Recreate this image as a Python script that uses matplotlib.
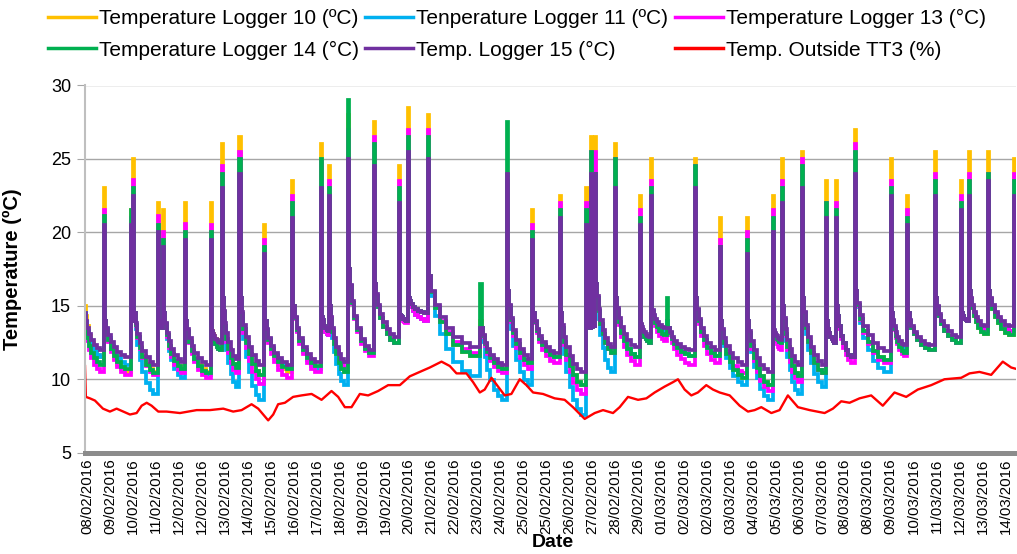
import matplotlib
matplotlib.use("Agg")
import matplotlib.pyplot as plt
from matplotlib.lines import Line2D

plt.rcParams['font.family'] = ['Liberation Sans', 'DejaVu Sans']

# ---------------- data (hours since first axis label, 08/02/2016) ----------------
tick_labels = ["08/02/2016", "09/02/2016", "10/02/2016", "11/02/2016", "12/02/2016",
               "12/02/2016", "13/02/2016", "14/02/2016", "15/02/2016", "16/02/2016",
               "17/02/2016", "18/02/2016", "19/02/2016", "19/02/2016", "20/02/2016",
               "21/02/2016", "22/02/2016", "23/02/2016", "24/02/2016", "25/02/2016",
               "25/02/2016", "26/02/2016", "27/02/2016", "28/02/2016", "29/02/2016",
               "01/03/2016", "02/03/2016", "02/03/2016", "03/03/2016", "04/03/2016",
               "05/03/2016", "06/03/2016", "07/03/2016", "08/03/2016", "08/03/2016",
               "09/03/2016", "10/03/2016", "11/03/2016", "12/03/2016", "13/03/2016",
               "14/03/2016"]
tick_hours = [21 * i for i in range(len(tick_labels))]

spike_hours = [15.5, 39.9, 42.3, 65.2, 69.7, 89.6, 113.3, 123.1, 139.4, 162.0,
               187.6, 213.9, 221.4, 238.3, 262.6, 285.1, 293.6, 311.4, 359.8, 384.1,
               407.3, 432.3, 456.7, 460.6, 464.9, 482.5, 505.4, 515.4, 530.7, 555.7,
               578.5, 603.5, 627.2, 635.8, 653.7, 676.0, 685.1, 701.9, 735.4, 750.0,
               775.0, 799.4, 806.3, 823.7, 848.1]

peak_l10 = [23.0, 21.5, 25.0, 22.0, 21.5, 22.0, 22.0, 26.0, 26.5, 20.5, 23.5, 26.0, 24.5, 28.0, 27.5,
            24.5, 28.5, 28.0, 14.0, 23.5, 21.5, 22.5, 23.0, 26.5, 26.5, 26.0, 22.5, 25.0, 14.0, 25.0,
            21.0, 21.0, 22.5, 25.0, 25.5, 23.5, 23.5, 27.0, 25.0, 22.5, 25.5, 23.5, 25.5, 25.5, 25.0]
peak_l11 = [20.0, 20.0, 22.0, 19.5, 18.5, 19.0, 19.0, 22.5, 23.5, 18.0, 20.5, 22.5, 22.0, 24.5, 24.0,
            21.5, 25.0, 24.5, 13.5, 23.5, 19.0, 20.5, 20.0, 23.5, 23.5, 22.5, 20.0, 22.0, 14.0, 22.5,
            18.5, 18.0, 19.5, 21.5, 22.5, 20.5, 20.5, 23.5, 22.0, 20.0, 22.0, 21.0, 22.0, 23.0, 22.0]
peak_l13 = [21.5, 21.0, 23.6, 21.1, 20.0, 20.6, 20.5, 24.5, 25.5, 19.5, 22.5, 24.8, 23.5, 27.0, 26.5,
            23.5, 27.0, 27.0, 13.5, 23.5, 20.5, 22.0, 22.0, 25.5, 25.5, 25.0, 21.5, 23.5, 13.5, 24.5,
            19.5, 20.0, 21.5, 23.5, 25.0, 22.0, 22.0, 26.0, 23.5, 21.5, 24.0, 22.5, 24.0, 24.0, 24.0]
peak_l14 = [21.1, 21.5, 23.0, 20.5, 19.5, 20.0, 20.0, 24.0, 25.0, 19.0, 22.0, 25.0, 23.0, 29.0, 26.0,
            23.0, 26.5, 26.5, 16.5, 27.5, 20.0, 21.5, 21.5, 25.5, 24.0, 25.0, 21.0, 23.0, 15.5, 24.5,
            19.0, 19.5, 21.0, 23.0, 24.5, 22.0, 21.5, 25.5, 23.0, 21.0, 23.5, 22.0, 23.5, 24.0, 23.5]
peak_l15 = [20.5, 20.5, 22.5, 20.0, 19.0, 19.5, 19.5, 23.0, 24.0, 18.5, 21.0, 23.0, 22.5, 25.0, 24.5,
            22.0, 25.5, 25.0, 13.5, 24.0, 19.5, 21.0, 20.5, 24.0, 24.0, 23.0, 20.5, 22.5, 13.5, 23.0,
            19.0, 18.5, 20.0, 22.0, 23.0, 21.0, 21.0, 24.0, 22.5, 20.5, 22.5, 21.5, 22.5, 23.5, 22.5]

# level reached just after the sharp drop following each spike
knee_level = [14.0, 14.0, 14.5, 14.0, 14.5, 14.0, 13.5, 15.5, 15.5, 14.0, 15.0, 14.5, 15.0, 17.5, 16.5,
              14.5, 15.5, 17.0, 13.5, 16.0, 14.5, 14.5, 14.0, 14.0, 16.5, 15.5, 14.0, 15.0, 13.5, 15.5,
              14.0, 14.0, 13.5, 15.0, 15.5, 14.0, 15.0, 16.0, 14.5, 14.5, 15.5, 14.5, 16.0, 16.0, 16.0]

# lowest value just before each spike
min_l10 = [11.5, 10.5, 14.0, 10.5, 13.5, 10.7, 10.5, 12.5, 10.8, 10.3, 10.5, 10.8, 13.0, 10.5, 11.8,
           12.5, 14.0, 14.0, 11.6, 10.7, 11.1, 11.5, 9.6, 13.5, 13.5, 11.8, 11.5, 12.5, 13.0, 11.6,
           11.6, 10.1, 9.6, 12.5, 10.2, 10.4, 12.5, 11.5, 11.3, 11.8, 12.0, 12.5, 14.0, 13.1, 13.0]
min_l11 = [11.5, 11.0, 14.0, 9.0, 13.5, 10.1, 10.3, 12.0, 9.5, 8.6, 10.8, 10.7, 13.0, 9.6, 11.8,
           12.5, 14.0, 14.0, 10.2, 8.6, 9.6, 11.5, 7.6, 13.5, 13.5, 10.5, 11.5, 12.5, 13.2, 11.6,
           11.6, 9.6, 8.6, 12.5, 9.0, 9.5, 12.5, 11.5, 10.5, 12.0, 12.0, 12.5, 14.0, 13.3, 13.3]
min_l13 = [10.5, 10.3, 14.0, 10.3, 13.5, 10.4, 10.1, 12.0, 10.4, 9.7, 10.1, 10.5, 13.0, 10.8, 11.6,
           12.5, 13.8, 14.0, 11.8, 10.4, 10.7, 11.1, 9.0, 13.5, 13.5, 11.8, 11.0, 12.5, 12.6, 11.0,
           11.1, 10.4, 9.2, 12.0, 9.8, 10.4, 12.5, 11.1, 11.1, 11.6, 12.0, 12.5, 14.0, 13.3, 13.3]
min_l14 = [11.0, 10.7, 14.0, 10.4, 13.5, 10.7, 10.4, 12.0, 10.8, 10.3, 10.7, 10.9, 13.3, 10.5, 11.8,
           12.5, 14.0, 14.5, 11.6, 10.7, 11.1, 11.5, 9.6, 13.5, 13.5, 11.8, 11.5, 12.5, 13.0, 11.6,
           11.6, 10.1, 9.6, 12.5, 10.2, 10.4, 12.5, 11.5, 11.3, 11.8, 12.0, 12.5, 14.0, 13.1, 13.0]
min_l15 = [12.0, 11.5, 14.0, 11.0, 13.5, 11.2, 11.0, 12.5, 11.4, 11.0, 11.0, 11.2, 13.3, 11.2, 12.0,
           12.9, 14.0, 14.5, 12.2, 11.0, 11.4, 11.8, 10.5, 13.5, 13.5, 12.2, 12.2, 12.9, 13.5, 12.0,
           12.0, 11.0, 10.5, 12.7, 11.0, 11.0, 12.5, 11.5, 11.9, 12.3, 12.3, 12.9, 14.0, 13.6, 13.6]

start_l10, start_l11, start_l13, start_l14, start_l15 = 15.0, 14.5, 14.0, 14.0, 14.5

outside_hours = [-1.8, -1.0, 2.7, 7.3, 14.6, 21.0, 27.1, 33.2, 39.3, 45.4, 50.0, 54.6, 59.1, 65.2,
                 72.8, 85.0, 100.3, 112.4, 124.6, 133.7, 141.4, 150.5, 156.6, 165.7, 170.3, 174.8,
                 181.0, 188.5, 196.2, 205.4, 214.5, 223.6, 229.7, 235.8, 241.9, 249.5, 257.1, 266.2,
                 275.4, 286.1, 295.2, 304.3, 313.5, 324.2, 331.8, 337.9, 347.0, 353.1, 359.2, 363.7,
                 369.9, 375.9, 382.0, 388.1, 395.7, 401.8, 407.9, 417.0, 427.7, 436.8, 444.4, 455.1,
                 464.3, 471.9, 481.0, 487.1, 494.7, 503.9, 511.5, 519.1, 528.2, 535.8, 540.4, 546.5,
                 552.6, 558.6, 566.3, 572.4, 578.5, 587.7, 596.8, 604.4, 610.5, 616.6, 625.8, 633.3,
                 640.9, 650.1, 660.8, 674.5, 682.1, 689.7, 697.3, 706.4, 717.1, 727.7, 738.4, 749.1,
                 759.7, 772.0, 784.1, 799.4, 807.0, 816.1, 826.8, 837.4, 845.1, 849.9]
outside_temp = [10.9, 8.8, 8.7, 8.55, 8.0, 7.8, 8.0, 7.8, 7.6, 7.7, 8.2, 8.4, 8.2, 7.8,
                7.8, 7.7, 7.9, 7.9, 8.0, 7.8, 7.9, 8.3, 8.0, 7.2, 7.6, 8.3,
                8.4, 8.8, 8.9, 9.0, 8.6, 9.2, 8.8, 8.1, 8.1, 9.0, 8.9, 9.2,
                9.6, 9.6, 10.2, 10.5, 10.8, 11.2, 10.9, 10.4, 10.4, 9.8, 9.1, 9.3,
                10.1, 9.5, 8.9, 9.0, 10.0, 9.6, 9.1, 9.0, 8.7, 8.6, 8.1, 7.3,
                7.7, 7.9, 7.7, 8.1, 8.8, 8.6, 8.7, 9.1, 9.5, 9.8, 10.0, 9.3,
                8.9, 9.1, 9.6, 9.3, 9.1, 8.9, 8.2, 7.8, 7.9, 8.1, 7.7, 7.9,
                8.9, 8.1, 7.9, 7.7, 8.0, 8.5, 8.4, 8.7, 8.9, 8.2, 9.1, 8.8,
                9.3, 9.6, 10.0, 10.1, 10.4, 10.5, 10.3, 11.2, 10.8, 10.7]

# ---------------- styling / layout ----------------
X_START, X_END = -1.8, 849.5
SPIKE_HOLD = 1.0
DECAY_T = [0.0, 0.05, 0.12, 0.22, 0.34, 0.48, 0.64, 0.80]
DECAY_F = [0.0, 0.20, 0.40, 0.58, 0.73, 0.86, 0.95, 1.00]


def build_trace(start_val, peaks, mins, knees):
    t, v = [X_START], [start_val]
    s_t, s_v = X_START, start_val
    for k, tp in enumerate(spike_hours):
        span = tp - s_t
        for ft, fv in zip(DECAY_T[1:], DECAY_F[1:]):
            t.append(s_t + span * ft)
            v.append(s_v - (s_v - mins[k]) * fv)
        t.append(tp)
        v.append(peaks[k])
        s_t, s_v = tp + SPIKE_HOLD, knees[k]
        t.append(s_t)
        v.append(s_v)
    t.append(X_END)
    v.append(s_v)
    return t, v


fig = plt.figure(figsize=(10.17, 5.54), dpi=100)
ax = fig.add_axes([85 / 1017, 1 - 452.7 / 554, (1016 - 85) / 1017, (452.7 - 85.5) / 554])

series = [
    ("Temperature Logger 10 (ºC)", "#FFC000", start_l10, peak_l10, min_l10),
    ("Tenperature Logger 11 (ºC)", "#00B0F0", start_l11, peak_l11, min_l11),
    ("Temperature Logger 13 (°C)", "#FF00FF", start_l13, peak_l13, min_l13),
    ("Temperature Logger 14 (°C)", "#00B050", start_l14, peak_l14, min_l14),
    ("Temp. Logger 15 (°C)", "#7030A0", start_l15, peak_l15, min_l15),
]
handles = {}
for name, col, s0, pk, mn in series:
    tt, vv = build_trace(s0, pk, mn, knee_level)
    ln, = ax.plot(tt, vv, drawstyle="steps-post", color=col, lw=2.7, label=name,
                  solid_joinstyle="miter")
    handles[name] = ln
red, = ax.plot(outside_hours, outside_temp, color="#FF0000", lw=1.7,
               label="Temp. Outside TT3 (%)")
handles["Temp. Outside TT3 (%)"] = red

ax.set_xlim(X_START, X_END)
ax.set_ylim(5, 30)
ax.set_yticks([5, 10, 15, 20, 25, 30])
ax.set_xticks(tick_hours)
ax.set_xticklabels(tick_labels, rotation=90, fontsize=10.8)
ax.tick_params(axis="x", length=0, pad=4)
ax.tick_params(axis="y", length=6, color="#a6a6a6", labelsize=13, pad=4)
ax.yaxis.grid(True, color="#a6a6a6", lw=1.0)
ax.set_axisbelow(True)
for side in ("top", "right"):
    ax.spines[side].set_visible(False)
ax.spines["left"].set_color("#bfbfbf")
ax.spines["left"].set_linewidth(1.5)
ax.spines["bottom"].set_color("#8c8c8c")
ax.spines["bottom"].set_linewidth(3.6)

ax.set_ylabel("Temperature (ºC)", fontsize=14.5, fontweight="bold")
ax.yaxis.set_label_coords(-0.068, 0.5)
ax.set_xlabel("Date", fontsize=14, fontweight="bold")
ax.xaxis.set_label_coords(0.503, -0.222)

order = ["Temperature Logger 10 (ºC)", "Temperature Logger 14 (°C)",
         "Tenperature Logger 11 (ºC)", "Temp. Logger 15 (°C)",
         "Temperature Logger 13 (°C)", "Temp. Outside TT3 (%)"]
leg_handles = [Line2D([], [], color=handles[n].get_color(), lw=2.5) for n in order]
fig.legend(leg_handles, order, ncol=3, loc="upper left", bbox_to_anchor=(48 / 1017, 1 - 9 / 554),
           frameon=False, fontsize=15, handlelength=2.3, handletextpad=0.15,
           columnspacing=0.3, labelspacing=0.6, borderpad=0, borderaxespad=0)

fig.savefig("out.png", dpi=100)
